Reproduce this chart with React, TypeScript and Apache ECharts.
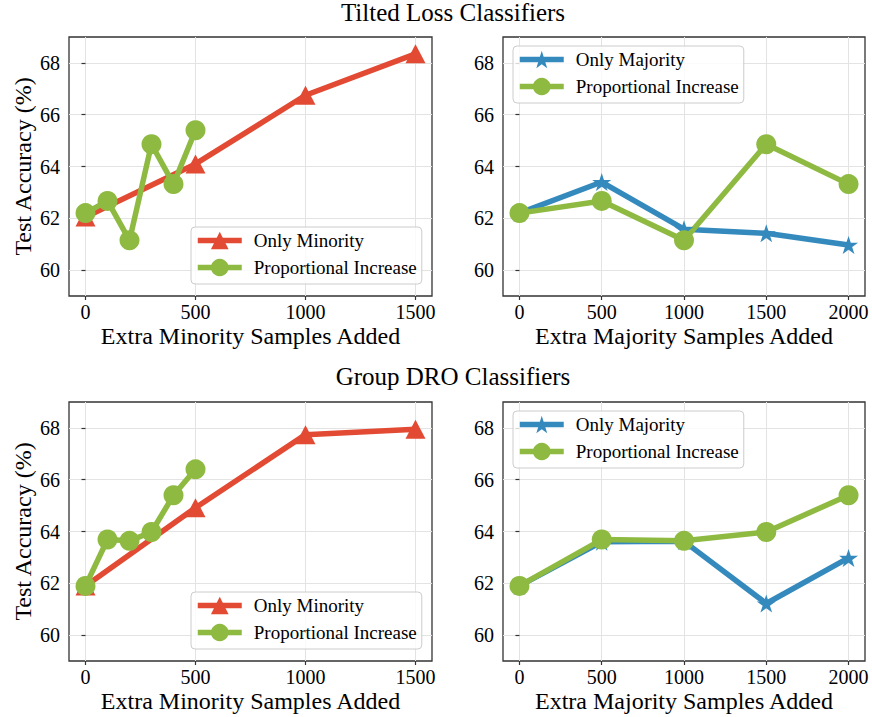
import React, { useEffect, useRef } from 'react';
import * as echarts from 'echarts';

// ---- data ----
const onlyMinorityX = [0, 500, 1000, 1500];
const propMinorityX = [0, 100, 200, 300, 400, 500];
const majorityX = [0, 500, 1000, 1500, 2000];

const tiltedOnlyMinority = [62.05, 64.1, 66.75, 68.35];
const tiltedPropMinority = [62.2, 62.67, 61.15, 64.86, 63.32, 65.4];
const tiltedOnlyMajority = [62.2, 63.4, 61.58, 61.42, 60.97];
const tiltedPropMajority = [62.2, 62.67, 61.15, 64.86, 63.32];

const droOnlyMinority = [61.9, 64.92, 67.74, 67.95];
const droPropMinority = [61.9, 63.69, 63.64, 63.98, 65.4, 66.4];
const droOnlyMajority = [61.9, 63.6, 63.62, 61.22, 62.98];
const droPropMajority = [61.9, 63.69, 63.64, 63.98, 65.4];

const minorityTicks = [0, 500, 1000, 1500];
const majorityTicks = [0, 500, 1000, 1500, 2000];
const yTicks = [60, 62, 64, 66, 68];

const titles = ['Tilted Loss Classifiers', 'Group DRO Classifiers'];
const xNameMinority = 'Extra Minority Samples Added';
const xNameMajority = 'Extra Majority Samples Added';
const yName = 'Test Accuracy (%)';
const nameOnlyMinority = 'Only Minority';
const nameOnlyMajority = 'Only Majority';
const nameProp = 'Proportional Increase';

// ---- style ----
const FONT = 'Liberation Serif';
const RED = '#E24A33';
const BLUE = '#348ABD';
const GREEN = '#8EBA42';
const FRAME = '#333333';
const STAR =
  'path://M50 0 L61.23 34.55 L97.55 34.55 L68.17 55.9 L79.39 90.45 L50 69.1 L20.61 90.45 L31.83 55.9 L2.45 34.55 L38.77 34.55 Z';

const pairs = (xs: number[], ys: number[]) => xs.map((x, i) => [x, ys[i]]);
const plain = (v: number) => String(v);

function xAxis(gridIndex: number, min: number, max: number, ticks: number[], name: string) {
  return {
    type: 'value',
    gridIndex,
    min,
    max,
    name,
    nameLocation: 'middle',
    nameGap: 28,
    nameTextStyle: { fontFamily: FONT, fontSize: 24, color: '#000' },
    axisLine: { show: false },
    axisTick: { show: true, length: 4, lineStyle: { color: FRAME, width: 1.2 }, customValues: ticks },
    axisLabel: {
      customValues: ticks,
      formatter: plain,
      margin: 6,
      fontFamily: FONT,
      fontSize: 20,
      color: '#000',
    },
    splitLine: { show: true, lineStyle: { color: '#e3e3e3', width: 1 } },
  };
}

function yAxis(gridIndex: number, withName: boolean) {
  return {
    type: 'value',
    gridIndex,
    min: 59,
    max: 69,
    name: withName ? yName : '',
    nameLocation: 'middle',
    nameGap: 34,
    nameTextStyle: { fontFamily: FONT, fontSize: 24, color: '#000' },
    axisLine: { show: false },
    axisTick: { show: true, length: 4, lineStyle: { color: FRAME, width: 1.2 }, customValues: yTicks },
    axisLabel: {
      customValues: yTicks,
      formatter: plain,
      margin: 9,
      fontFamily: FONT,
      fontSize: 20,
      color: '#000',
    },
    splitLine: { show: true, lineStyle: { color: '#e3e3e3', width: 1 } },
  };
}

function lineSeries(
  name: string,
  axisIndex: number,
  xs: number[],
  ys: number[],
  color: string,
  symbol: string,
  symbolSize: number | number[]
) {
  return {
    type: 'line',
    name,
    xAxisIndex: axisIndex,
    yAxisIndex: axisIndex,
    data: pairs(xs, ys),
    symbol,
    symbolSize,
    showSymbol: true,
    showAllSymbol: true,
    clip: false,
    lineStyle: { color, width: 5.5 },
    itemStyle: { color, opacity: 1 },
    emphasis: { disabled: true },
  };
}

function legend(left: number, top: number, names: string[]) {
  return {
    left,
    top,
    orient: 'vertical',
    data: names,
    itemWidth: 44,
    itemHeight: 22,
    itemGap: 8,
    padding: [4, 5, 7, 4],
    borderColor: '#cccccc',
    borderWidth: 1,
    borderRadius: 4,
    backgroundColor: 'rgba(255,255,255,0.8)',
    lineStyle: { width: 5.5 },
    selectedMode: false,
    textStyle: { fontFamily: FONT, fontSize: 19, color: '#000', padding: [0, 0, 0, 7] },
  };
}

export default function App() {
  const ref = useRef<HTMLDivElement>(null);
  useEffect(() => {
    document.body.style.margin = '0';
    if (!ref.current) return;
    const chart = echarts.init(ref.current, null, { renderer: 'svg' });
    const gridBase = {
      show: true,
      borderColor: FRAME,
      borderWidth: 1.3,
      backgroundColor: 'transparent',
      containLabel: false,
    };
    chart.setOption({
      animation: false,
      backgroundColor: '#ffffff',
      textStyle: { fontFamily: FONT },
      graphic: [
        {
          type: 'text',
          x: 453,
          y: 12,
          style: {
            text: titles[0],
            fontFamily: FONT,
            fontSize: 25,
            fill: '#000',
            align: 'center',
            verticalAlign: 'middle',
          },
        },
        {
          type: 'text',
          x: 453,
          y: 376,
          style: {
            text: titles[1],
            fontFamily: FONT,
            fontSize: 25,
            fill: '#000',
            align: 'center',
            verticalAlign: 'middle',
          },
        },
      ],
      grid: [
        { ...gridBase, left: 69, top: 37, width: 363, height: 259 },
        { ...gridBase, left: 503, top: 37, width: 362, height: 259 },
        { ...gridBase, left: 69, top: 402, width: 363, height: 259 },
        { ...gridBase, left: 503, top: 402, width: 362, height: 259 },
      ],
      xAxis: [
        xAxis(0, -75, 1575, minorityTicks, xNameMinority),
        xAxis(1, -100, 2100, majorityTicks, xNameMajority),
        xAxis(2, -75, 1575, minorityTicks, xNameMinority),
        xAxis(3, -100, 2100, majorityTicks, xNameMajority),
      ],
      yAxis: [yAxis(0, true), yAxis(1, false), yAxis(2, true), yAxis(3, false)],
      legend: [
        legend(191, 227, [nameOnlyMinority, nameProp]),
        legend(513, 46, [nameOnlyMajority, nameProp]),
        legend(191, 592, [nameOnlyMinority, nameProp]),
        legend(513, 411, [nameOnlyMajority, nameProp]),
      ],
      series: [
        lineSeries(nameOnlyMinority, 0, onlyMinorityX, tiltedOnlyMinority, RED, 'triangle', [20, 19]),
        lineSeries(nameProp, 0, propMinorityX, tiltedPropMinority, GREEN, 'circle', 20),
        lineSeries(nameOnlyMajority, 1, majorityX, tiltedOnlyMajority, BLUE, STAR, [19, 18]),
        lineSeries(nameProp, 1, majorityX, tiltedPropMajority, GREEN, 'circle', 20),
        lineSeries(nameOnlyMinority, 2, onlyMinorityX, droOnlyMinority, RED, 'triangle', [20, 19]),
        lineSeries(nameProp, 2, propMinorityX, droPropMinority, GREEN, 'circle', 20),
        lineSeries(nameOnlyMajority, 3, majorityX, droOnlyMajority, BLUE, STAR, [19, 18]),
        lineSeries(nameProp, 3, majorityX, droPropMajority, GREEN, 'circle', 20),
      ],
    });
    return () => chart.dispose();
  }, []);
  return <div ref={ref} style={{ width: 872, height: 717 }} />;
}
